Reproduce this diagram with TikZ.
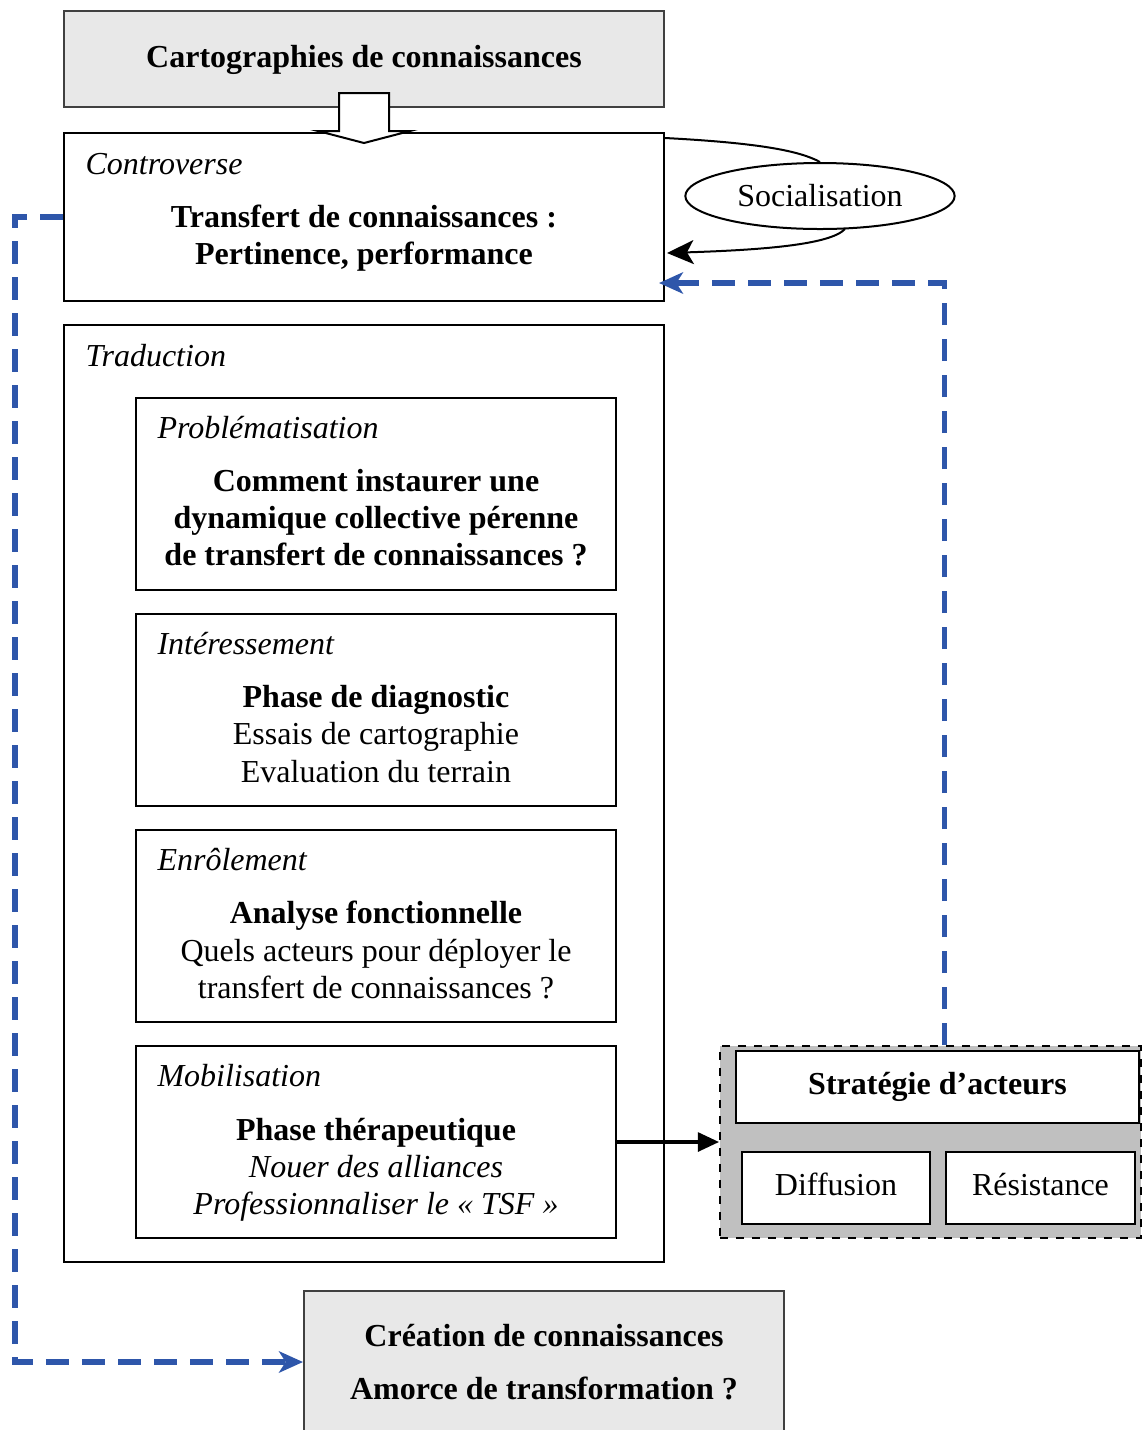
\documentclass[tikz,border=0pt]{standalone}
\usepackage{fontspec}
\setmainfont{Liberation Serif}
\usetikzlibrary{arrows.meta,shapes.geometric,calc}
\definecolor{boxgray}{RGB}{232,232,232}
\definecolor{grpgray}{RGB}{192,192,192}
\definecolor{linkblue}{RGB}{46,86,170}
\begin{document}
\begin{tikzpicture}[x=0.375pt, y=-0.375pt, font=\fontsize{12}{13.9}\selectfont,
    framebox/.style={draw, line width=0.75pt, inner sep=0pt, align=center},
    phasebox/.style={framebox, minimum width=180pt, minimum height=72pt},
    tag/.style={anchor=west, inner sep=0pt, font=\fontsize{12}{13.9}\selectfont\itshape},
    txt/.style={inner sep=0pt, align=center},
    bold/.style={font=\fontsize{12}{13.9}\selectfont\bfseries},
    bluelink/.style={linkblue, line width=1.9pt, dash pattern=on 8.5pt off 5pt, -{Stealth[length=9pt,width=8pt,inset=2.5pt]}},
  ]
  \useasboundingbox (0,0) rectangle (1143,1430);
  \clip (0,0) rectangle (1143,1430);

  % Top
  \node[framebox, bold, fill=boxgray, draw=black!75, minimum width=225pt, minimum height=36pt, text depth=2pt] (carto) at (364,59) {Cartographies de connaissances};
  \node[framebox, minimum width=225pt, minimum height=63pt] (contro) at (364,217) {};
  \node[tag] (contro-tag) at (85,164) {Controverse};
  \node[txt, bold] (contro-txt) at (364,238) {Transfert de connaissances :\\ Pertinence, performance};

  % Block arrow
  \draw[fill=white, line width=0.75pt, line join=miter] (339,93) -- (389,93) -- (389,131) -- (410,131) -- (364,143) -- (318,131) -- (339,131) -- cycle;

  % Socialisation
  \node[ellipse, draw, line width=0.75pt, fill=white, minimum width=101pt, minimum height=24.75pt, inner sep=0pt] (soc) at (820,196) {Socialisation};
  \draw[line width=0.75pt] ($(contro.north east)+(0,6)$) .. controls (760,143) and (800,151) .. (soc.north);
  \draw[line width=0.75pt, -{Stealth[length=10pt,width=9pt,inset=2.5pt]}] ($(soc.south)+(25,-1)$) .. controls (830,245) and (760,250) .. ($(contro.east)+(2,36)$);

  % Traduction
  \node[framebox, minimum width=225pt, minimum height=351.4pt] (trad) at (364,793.5) {};
  \node[tag] (trad-tag) at (85,356) {Traduction};

  \node[phasebox] (prob) at (376,494) {};
  \node[tag] (prob-tag) at (157,428) {Problématisation};
  \node[txt, bold] (prob-txt) at (376,518) {Comment instaurer une\\ dynamique collective pérenne\\ de transfert de connaissances ?};

  \node[phasebox] (inter) at (376,710) {};
  \node[tag] (inter-tag) at (157,644) {Intéressement};
  \node[txt] (inter-txt) at (376,734) {\textbf{Phase de diagnostic}\\ Essais de cartographie\\ Evaluation du terrain};

  \node[phasebox] (enrol) at (376,926) {};
  \node[tag] (enrol-tag) at (157,860) {Enrôlement};
  \node[txt] (enrol-txt) at (376,950) {\textbf{Analyse fonctionnelle}\\ Quels acteurs pour déployer le\\ transfert de connaissances ?};

  \node[phasebox] (mob) at (376,1142) {};
  \node[tag] (mob-tag) at (157,1076) {Mobilisation};
  \node[txt] (mob-txt) at (376,1170) {\textbf{Phase thérapeutique}\\ \textit{Nouer des alliances}\\ \textit{Professionnaliser le «~TSF~»}};

  % Strategie
  \node[draw, dashed, line width=0.6pt, fill=grpgray, minimum width=157.9pt, minimum height=72pt, inner sep=0pt] (grp) at (930.5,1142) {};
  \node[framebox, bold, fill=white, minimum width=151.1pt, minimum height=27pt] (strat) at (937.5,1087) {Stratégie d’acteurs};
  \node[framebox, fill=white, minimum width=70.5pt, minimum height=27pt, text depth=3pt] (diff) at (836,1188) {Diffusion};
  \node[framebox, fill=white, minimum width=70.9pt, minimum height=27pt, text depth=3pt] (resist) at (1040.5,1188) {Résistance};
  \draw[line width=1.5pt, -{Triangle[length=8pt,width=7pt]}] (mob.east) -- (grp.west);

  % Creation
  \node[framebox, bold, fill=boxgray, draw=black!75, minimum width=180pt, minimum height=53.25pt] (creat) at (544,1362) {Création de connaissances\\[6pt] Amorce de transformation ?};

  % Blue links
  \draw[bluelink] ($(grp.north)+(14,0)$) |- ($(contro.east)+(-6,66)$);
  \draw[bluelink] (contro.west) -- ++(-48,0) |- (creat.west);
\end{tikzpicture}
\end{document}
